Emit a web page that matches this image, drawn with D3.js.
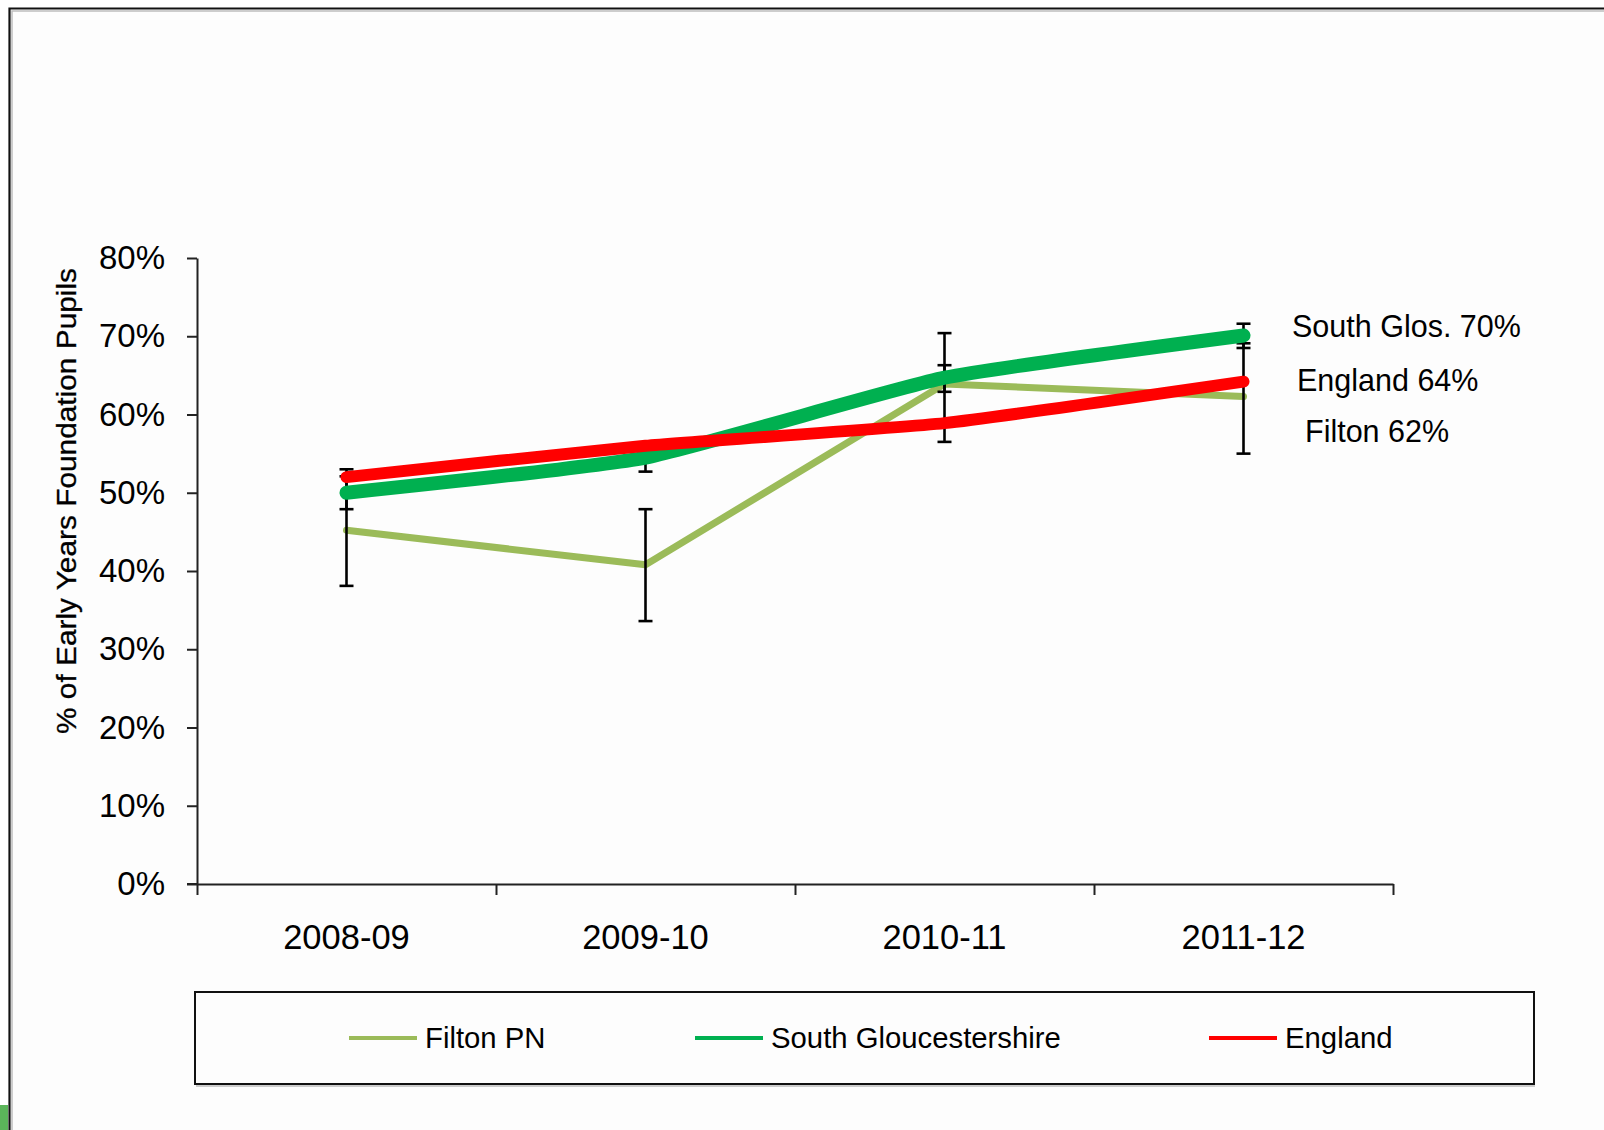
<!DOCTYPE html>
<html>
<head>
<meta charset="utf-8">
<script src="https://cdn.jsdelivr.net/npm/d3@7"></script>
<style>
  html, body { margin: 0; padding: 0; background: #ffffff; }
  svg { display: block; }
  text { font-family: "Liberation Sans", Arial, sans-serif; fill: #000; }
</style>
</head>
<body>
<svg id="chart" width="1604" height="1130"></svg>
<script>
// ---------------- DATA ----------------
const categories = ["2008-09", "2009-10", "2010-11", "2011-12"];
const seriesNames = ["Filton PN", "South Gloucestershire", "England"];
const filtonValues = [0.452, 0.408, 0.639, 0.623];
const southGlosValues = [0.500, 0.545, 0.647, 0.701];
const englandValues = [0.520, 0.560, 0.589, 0.642];
const filtonErrLow = [0.381, 0.336, 0.565, 0.550];
const filtonErrHigh = [0.530, 0.479, 0.704, 0.691];
const southGlosErrLow = [0.479, 0.527, 0.629, 0.685];
const southGlosErrHigh = [0.521, 0.563, 0.663, 0.716];
const yTicks = [0, 0.1, 0.2, 0.3, 0.4, 0.5, 0.6, 0.7, 0.8];
const endLabels = ["South Glos. 70%", "England 64%", "Filton 62%"];
const yTitle = "% of Early Years Foundation Pupils";

// ---------------- LAYOUT ----------------
const W = 1604, H = 1130;
const plot = { left: 197, right: 1393, top: 258, bottom: 884 };
const colors = { "Filton PN": "#9BBB59", "South Gloucestershire": "#00B050", "England": "#FF0000" };
const widths = { "Filton PN": 7, "South Gloucestershire": 14, "England": 12 };

const svg = d3.select("#chart");

// background & frame
svg.append("rect").attr("x", 0).attr("y", 0).attr("width", W).attr("height", H).attr("fill", "#ffffff");
svg.append("rect").attr("x", 10).attr("y", 9).attr("width", W - 10).attr("height", H - 9).attr("fill", "#fdfdfd");
svg.append("path").attr("d", `M12,${H} L12,11 L${W},11`).attr("fill", "none").attr("stroke", "#bdbdbd").attr("stroke-width", 1.5);
svg.append("path").attr("d", `M9.5,${H} L9.5,8.5 L${W},8.5`).attr("fill", "none").attr("stroke", "#111").attr("stroke-width", 2.2);
// green decoration bottom-left
svg.append("rect").attr("x", 0).attr("y", 1105).attr("width", 8).attr("height", 25).attr("fill", "#5bb55a");

// scales
const y = d3.scaleLinear().domain([0, 0.8]).range([plot.bottom, plot.top]);
const xBand = d3.scaleBand().domain(categories).range([plot.left, plot.right]);
const xc = c => xBand(c) + xBand.bandwidth() / 2;
const xEdge = d3.scaleLinear().domain([0, categories.length]).range([plot.left, plot.right]);

// Y axis
const yAxis = svg.append("g").attr("transform", `translate(${plot.left},0)`)
  .call(d3.axisLeft(y).tickValues(yTicks).tickFormat(d3.format(".0%")).tickSize(10).tickPadding(22).tickSizeOuter(0));
yAxis.selectAll("path, line").attr("stroke", "#222").attr("stroke-width", 2);
yAxis.selectAll("text").attr("font-size", 33).attr("font-family", "Liberation Sans, Arial, sans-serif").attr("fill", "#000");

// X axis (ticks at category boundaries)
const xAxis = svg.append("g").attr("transform", `translate(0,${plot.bottom})`)
  .call(d3.axisBottom(xEdge).tickValues(d3.range(categories.length + 1)).tickFormat("").tickSize(11).tickSizeOuter(0));
xAxis.selectAll("path, line").attr("stroke", "#222").attr("stroke-width", 2);
svg.append("line").attr("x1", plot.left - 10).attr("x2", plot.left).attr("y1", plot.bottom).attr("y2", plot.bottom)
  .attr("stroke", "#222").attr("stroke-width", 2);

// x labels
svg.append("g").selectAll("text").data(categories).join("text")
  .attr("x", d => xc(d)).attr("y", 949).attr("text-anchor", "middle").attr("font-size", 34.5).text(d => d);

// y title
svg.append("text").attr("transform", "translate(76,501) rotate(-90)").attr("text-anchor", "middle")
  .attr("font-size", 27).attr("textLength", 466).attr("lengthAdjust", "spacingAndGlyphs")
  .attr("stroke", "#000").attr("stroke-width", 0.3).text(yTitle);

// lines
const dataFor = vals => categories.map((c, i) => ({ c, v: vals[i] }));
const lineLinear = d3.line().x(d => xc(d.c)).y(d => y(d.v));
const lineSmooth = d3.line().x(d => xc(d.c)).y(d => y(d.v)).curve(d3.curveCardinal.tension(0.55));

// Filton line (under)
svg.append("path").datum(dataFor(filtonValues)).attr("d", lineLinear)
  .attr("fill", "none").attr("stroke", colors["Filton PN"]).attr("stroke-width", widths["Filton PN"])
  .attr("stroke-linecap", "round").attr("stroke-linejoin", "round");

// error bars
function errorBars(lows, highs) {
  const g = svg.append("g").attr("stroke", "#000").attr("stroke-width", 2.6).attr("fill", "none");
  categories.forEach((c, i) => {
    const x = xc(c);
    g.append("line").attr("x1", x).attr("x2", x).attr("y1", y(lows[i])).attr("y2", y(highs[i]));
    g.append("line").attr("x1", x - 7).attr("x2", x + 7).attr("y1", y(lows[i])).attr("y2", y(lows[i]));
    g.append("line").attr("x1", x - 7).attr("x2", x + 7).attr("y1", y(highs[i])).attr("y2", y(highs[i]));
  });
}
errorBars(filtonErrLow, filtonErrHigh);
errorBars(southGlosErrLow, southGlosErrHigh);

// South Glos & England lines
svg.append("path").datum(dataFor(southGlosValues)).attr("d", lineSmooth)
  .attr("fill", "none").attr("stroke", colors["South Gloucestershire"]).attr("stroke-width", widths["South Gloucestershire"])
  .attr("stroke-linecap", "round").attr("stroke-linejoin", "round");
svg.append("path").datum(dataFor(englandValues)).attr("d", lineSmooth)
  .attr("fill", "none").attr("stroke", colors["England"]).attr("stroke-width", widths["England"])
  .attr("stroke-linecap", "round").attr("stroke-linejoin", "round");

// end labels
const endLabelPos = [{ x: 1292, y: 337 }, { x: 1297, y: 391 }, { x: 1305, y: 442 }];
svg.append("g").selectAll("text").data(endLabels).join("text")
  .attr("x", (d, i) => endLabelPos[i].x).attr("y", (d, i) => endLabelPos[i].y)
  .attr("font-size", 30.5).text(d => d);

// legend
const legend = svg.append("g");
legend.append("rect").attr("x", 195).attr("y", 992).attr("width", 1339).attr("height", 92)
  .attr("fill", "#fdfdfd").attr("stroke", "#111").attr("stroke-width", 2);
legend.append("line").attr("x1", 196).attr("x2", 1535).attr("y1", 1086).attr("y2", 1086).attr("stroke", "#bbb").attr("stroke-width", 1.5);
const legendX = [349, 695, 1209];
const legendY = 1038;
seriesNames.forEach((s, i) => {
  legend.append("line").attr("x1", legendX[i]).attr("x2", legendX[i] + 68).attr("y1", legendY).attr("y2", legendY)
    .attr("stroke", colors[s]).attr("stroke-width", 4);
  legend.append("text").attr("x", legendX[i] + 76).attr("y", legendY + 10).attr("font-size", 29.3).text(s);
});
</script>
</body>
</html>
